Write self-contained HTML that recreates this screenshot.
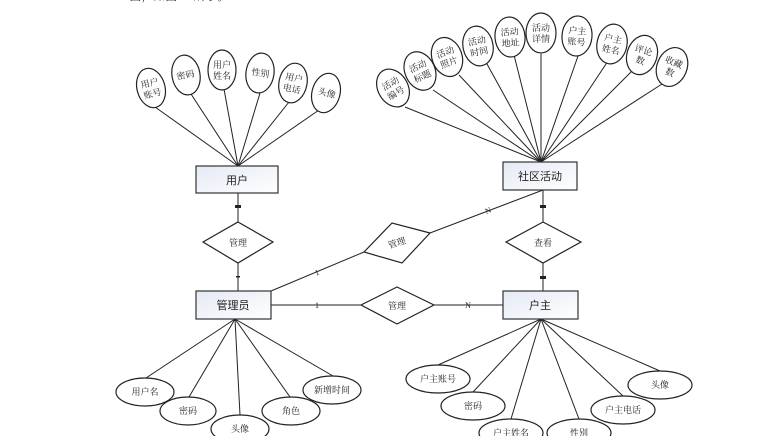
<!DOCTYPE html>
<html><head><meta charset="utf-8"><style>
html,body{margin:0;padding:0;background:#fff;width:770px;height:436px;overflow:hidden}
svg text{font-family:"Liberation Serif","Noto Serif CJK SC","Noto Sans CJK SC",serif;fill:#222}
svg text.s{font-family:"Liberation Sans","Noto Sans CJK SC",sans-serif}
</style></head><body>
<svg width="770" height="436" viewBox="0 0 770 436" xmlns="http://www.w3.org/2000/svg">
<defs><linearGradient id="g" x1="0" y1="0" x2="1" y2="1"><stop offset="0" stop-color="#e4e9f4"/><stop offset="1" stop-color="#ffffff"/></linearGradient></defs>
<text x="110" y="0" font-size="12" fill="#444">E-R图，如图4-1所示。</text>
<g stroke="#222" stroke-width="1" fill="none">
<line x1="155" y1="107" x2="238" y2="166"/><line x1="191" y1="94" x2="238" y2="166"/>
<line x1="224" y1="89" x2="238" y2="166"/><line x1="260" y1="93" x2="238" y2="166"/>
<line x1="289" y1="102" x2="238" y2="166"/><line x1="319" y1="110" x2="238" y2="166"/>
<line x1="405" y1="107" x2="541" y2="162"/><line x1="433" y1="90" x2="541" y2="162"/>
<line x1="459" y1="75" x2="541" y2="162"/><line x1="487" y1="64" x2="541" y2="162"/>
<line x1="514" y1="55" x2="541" y2="162"/><line x1="541" y1="54" x2="541" y2="162"/>
<line x1="578" y1="56" x2="541" y2="162"/><line x1="608" y1="61" x2="541" y2="162"/>
<line x1="632" y1="71" x2="541" y2="162"/><line x1="662" y1="84" x2="541" y2="162"/>
<line x1="238" y1="193" x2="238" y2="222"/><line x1="238" y1="263" x2="238" y2="291"/>
<line x1="543" y1="190" x2="543" y2="222"/><line x1="543" y1="263" x2="543" y2="291"/>
<line x1="271" y1="291" x2="364" y2="252"/><line x1="430" y1="233" x2="543" y2="190"/>
<line x1="271" y1="305" x2="361" y2="305"/><line x1="434" y1="305" x2="503" y2="305"/>
<line x1="146" y1="378" x2="235" y2="319"/><line x1="189" y1="397" x2="235" y2="319"/>
<line x1="240" y1="415" x2="235" y2="319"/><line x1="290" y1="397" x2="235" y2="319"/>
<line x1="333" y1="376" x2="235" y2="319"/>
<line x1="438" y1="365" x2="541" y2="319"/><line x1="473" y1="392" x2="541" y2="319"/>
<line x1="511" y1="419" x2="541" y2="319"/><line x1="579" y1="419" x2="541" y2="319"/>
<line x1="623" y1="396" x2="541" y2="319"/><line x1="660" y1="371" x2="541" y2="319"/>
</g>
<g stroke="#222" stroke-width="1.2" fill="#fff">
<ellipse cx="151" cy="88" rx="14" ry="20" transform="rotate(-15 151 88)"/>
<ellipse cx="186" cy="75" rx="14" ry="20" transform="rotate(-10 186 75)"/>
<ellipse cx="222" cy="70" rx="14" ry="20"/>
<ellipse cx="260" cy="73" rx="14" ry="20" transform="rotate(8 260 73)"/>
<ellipse cx="293" cy="83" rx="14" ry="20" transform="rotate(12 293 83)"/>
<ellipse cx="326" cy="93" rx="14" ry="20" transform="rotate(15 326 93)"/>
<ellipse cx="393" cy="88" rx="15" ry="20" transform="rotate(-30 393 88)"/>
<ellipse cx="420" cy="71" rx="15" ry="20" transform="rotate(-25 420 71)"/>
<ellipse cx="447" cy="57" rx="15" ry="20" transform="rotate(-20 447 57)"/>
<ellipse cx="478" cy="46" rx="15" ry="20" transform="rotate(-12 478 46)"/>
<ellipse cx="510" cy="37" rx="15" ry="20" transform="rotate(-5 510 37)"/>
<ellipse cx="541" cy="33" rx="15" ry="20"/>
<ellipse cx="577" cy="36" rx="15" ry="20" transform="rotate(5 577 36)"/>
<ellipse cx="612" cy="44" rx="15" ry="20" transform="rotate(12 612 44)"/>
<ellipse cx="642" cy="55" rx="15" ry="20" transform="rotate(18 642 55)"/>
<ellipse cx="672" cy="67" rx="15" ry="20" transform="rotate(22 672 67)"/>
<ellipse cx="145" cy="392" rx="29" ry="14"/><ellipse cx="188" cy="411" rx="28" ry="14"/>
<ellipse cx="240" cy="429" rx="29" ry="14"/><ellipse cx="291" cy="411" rx="29" ry="14"/>
<ellipse cx="332" cy="390" rx="29" ry="14"/>
<ellipse cx="438" cy="379" rx="32" ry="14"/><ellipse cx="473" cy="406" rx="32" ry="14"/>
<ellipse cx="511" cy="433" rx="32" ry="14"/><ellipse cx="579" cy="433" rx="32" ry="14"/>
<ellipse cx="623" cy="410" rx="32" ry="14"/><ellipse cx="660" cy="385" rx="32" ry="14"/>
</g>
<g stroke="#333" stroke-width="1.2" fill="url(#g)">
<rect x="196" y="166" width="82" height="27"/>
<rect x="503" y="162" width="74" height="28"/>
<rect x="196" y="291" width="75" height="28"/>
<rect x="503" y="291" width="75" height="28"/>
</g>
<g stroke="#222" stroke-width="1.2" fill="#fff">
<polygon points="238,222 273,242 238,263 203,242"/>
<polygon points="543,222 581,242 543,263 506,242"/>
<polygon points="397,287 434,305 397,324 361,305"/>
<polygon points="364,252 392,223 430,233 402,263"/>
</g>
<g fill="#222"><rect x="235" y="205" width="6" height="3"/><rect x="540" y="205" width="6" height="3"/><rect x="540" y="276" width="6" height="3"/><rect x="236" y="276" width="4" height="1.5"/></g>
<g font-size="8" text-anchor="middle">
<text x="317" y="308">1</text><text x="468" y="308">N</text>
<text x="318" y="275" transform="rotate(-22 318 275)">1</text>
<text x="489" y="213" transform="rotate(-22 489 213)">N</text>
</g>
<g font-size="10" text-anchor="middle">
<text class="s" x="237" y="184" font-size="11">用户</text>
<text class="s" x="540" y="180" font-size="11">社区活动</text>
<text class="s" x="233" y="309" font-size="11">管理员</text>
<text class="s" x="540" y="309" font-size="11">户主</text>
<text x="238" y="246" font-size="9">管理</text>
<text x="543" y="246" font-size="9">查看</text>
<text x="397" y="309" font-size="9">管理</text>
<text x="397" y="246" font-size="9" transform="rotate(-18 397 243)" fill="#555">管理</text>
<g font-size="9">
<text transform="translate(151,88) rotate(-15)"><tspan x="0" y="-2">用户</tspan><tspan x="0" y="9">账号</tspan></text>
<text transform="translate(186,78) rotate(-10)">密码</text>
<text transform="translate(222,70)"><tspan x="0" y="-2">用户</tspan><tspan x="0" y="9">姓名</tspan></text>
<text transform="translate(260,76) rotate(8)">性别</text>
<text transform="translate(293,83) rotate(12)"><tspan x="0" y="-2">用户</tspan><tspan x="0" y="9">电话</tspan></text>
<text transform="translate(326,96) rotate(15)">头像</text>
<text transform="translate(393,88) rotate(-30)"><tspan x="0" y="-2">活动</tspan><tspan x="0" y="9">编号</tspan></text>
<text transform="translate(420,71) rotate(-25)"><tspan x="0" y="-2">活动</tspan><tspan x="0" y="9">标题</tspan></text>
<text transform="translate(447,57) rotate(-20)"><tspan x="0" y="-2">活动</tspan><tspan x="0" y="9">照片</tspan></text>
<text transform="translate(478,46) rotate(-12)"><tspan x="0" y="-2">活动</tspan><tspan x="0" y="9">时间</tspan></text>
<text transform="translate(510,37) rotate(-5)"><tspan x="0" y="-2">活动</tspan><tspan x="0" y="9">地址</tspan></text>
<text transform="translate(541,33)"><tspan x="0" y="-2">活动</tspan><tspan x="0" y="9">详情</tspan></text>
<text transform="translate(577,36) rotate(5)"><tspan x="0" y="-2">户主</tspan><tspan x="0" y="9">账号</tspan></text>
<text transform="translate(612,44) rotate(12)"><tspan x="0" y="-2">户主</tspan><tspan x="0" y="9">姓名</tspan></text>
<text transform="translate(642,55) rotate(18)"><tspan x="0" y="-2">评论</tspan><tspan x="0" y="9">数</tspan></text>
<text transform="translate(672,67) rotate(22)"><tspan x="0" y="-2">收藏</tspan><tspan x="0" y="9">数</tspan></text>
<text x="145" y="395">用户名</text><text x="188" y="414">密码</text><text x="240" y="432">头像</text>
<text x="291" y="414">角色</text><text x="332" y="393">新增时间</text>
<text x="438" y="382">户主账号</text><text x="473" y="409">密码</text><text x="511" y="436">户主姓名</text>
<text x="579" y="436">性别</text><text x="623" y="413">户主电话</text><text x="660" y="388">头像</text>
</g></g>
</svg>
</body></html>
